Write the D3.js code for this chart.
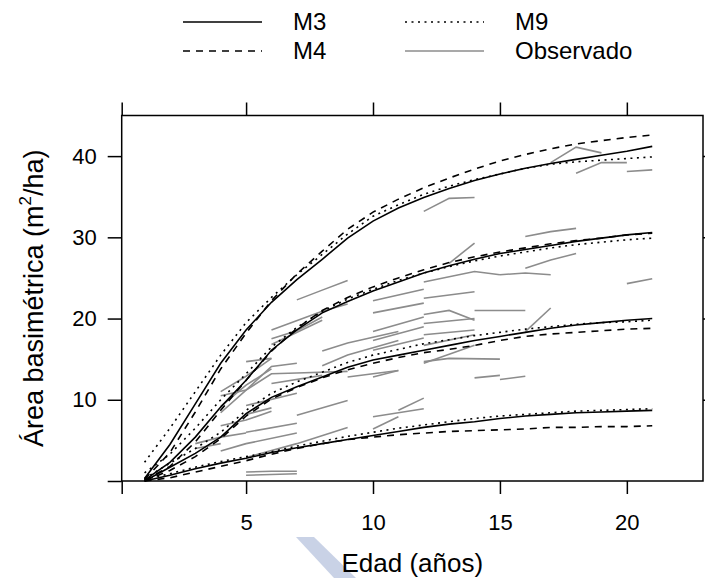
<!DOCTYPE html>
<html>
<head>
<meta charset="utf-8">
<script src="https://cdn.jsdelivr.net/npm/d3@7"></script>
<style>
  body { margin: 0; background: #fff; }
  text { font-family: "Liberation Sans", Arial, sans-serif; fill: #000; }
</style>
</head>
<body>
<div id="chart"></div>
<script>
// ages (years) at which the model curves are evaluated
const ages = [1, 2, 3, 4, 5, 6, 7, 8, 9, 10, 11, 12, 13, 14, 15, 16, 17, 18, 19, 20, 21];

// basal area (m2/ha) predicted by each model, four site curves each
const m3Curves = [
  [0.3, 4.5, 9.5, 14.5, 18.6, 22.0, 24.8, 27.3, 29.9, 32.0, 33.6, 34.9, 36.0, 37.0, 37.8, 38.5, 39.1, 39.6, 40.1, 40.6, 41.2],
  [0.1, 2.3, 5.4, 9.1, 12.4, 16.1, 18.6, 20.7, 22.1, 23.4, 24.5, 25.6, 26.5, 27.3, 28.0, 28.5, 29.0, 29.5, 29.9, 30.3, 30.6],
  [0.0, 1.7, 3.4, 5.4, 8.3, 10.3, 11.6, 12.8, 14.0, 14.9, 15.5, 16.1, 16.7, 17.3, 17.8, 18.3, 18.8, 19.2, 19.5, 19.8, 20.0],
  [0.0, 0.7, 1.5, 2.2, 2.8, 3.5, 4.1, 4.6, 5.1, 5.6, 6.1, 6.6, 7.0, 7.3, 7.7, 8.0, 8.2, 8.4, 8.5, 8.6, 8.7]
];
const m4Curves = [
  [0.2, 3.5, 8.5, 13.8, 18.2, 22.2, 25.5, 28.3, 31.0, 33.1, 34.7, 36.1, 37.3, 38.4, 39.4, 40.2, 40.9, 41.5, 41.9, 42.3, 42.6],
  [0.1, 1.8, 4.8, 8.7, 12.4, 16.0, 18.8, 21.0, 22.6, 23.9, 25.0, 26.0, 26.9, 27.6, 28.2, 28.7, 29.2, 29.6, 29.9, 30.3, 30.5],
  [0.0, 1.3, 3.0, 5.2, 8.0, 10.1, 11.5, 12.7, 13.7, 14.5, 15.2, 15.8, 16.2, 16.7, 17.3, 17.8, 18.1, 18.3, 18.5, 18.7, 18.8],
  [0.0, 0.4, 1.1, 1.8, 2.5, 3.3, 4.0, 4.6, 5.1, 5.4, 5.7, 5.9, 6.1, 6.2, 6.3, 6.4, 6.6, 6.6, 6.7, 6.7, 6.8]
];
const m9Curves = [
  [2.3, 6.5, 11.0, 15.5, 19.5, 22.6, 25.4, 27.9, 30.4, 32.6, 34.0, 35.3, 36.3, 37.1, 37.8, 38.5, 39.0, 39.3, 39.5, 39.7, 39.9],
  [1.0, 3.3, 6.5, 10.0, 13.2, 16.5, 18.9, 20.9, 22.4, 23.6, 24.7, 25.6, 26.4, 27.1, 27.7, 28.2, 28.7, 29.1, 29.4, 29.7, 29.9],
  [0.3, 2.2, 4.0, 6.0, 8.7, 10.8, 12.2, 13.4, 14.6, 15.5, 16.2, 16.9, 17.4, 17.9, 18.3, 18.7, 19.0, 19.3, 19.5, 19.6, 19.8],
  [0.2, 0.9, 1.7, 2.4, 3.0, 3.6, 4.3, 4.9, 5.5, 6.0, 6.5, 6.9, 7.3, 7.7, 8.0, 8.2, 8.4, 8.6, 8.7, 8.8, 8.9]
];

// observed plots: [age, basal area] per measurement
const observedPlots = [
  [[5, 0.7], [7, 0.9]],
  [[5, 1.1], [6, 1.2], [7, 1.2]],
  [[5, 2.9], [7, 4.6], [9, 6.6]],
  [[5, 4.6], [7, 5.9]],
  [[5, 6.0], [7, 7.1]],
  [[3, 4.6], [4, 5.4], [5, 5.9]],
  [[3, 4.0], [4, 4.6]],
  [[4, 3.7], [5, 4.6]],
  [[4, 6.8], [5, 7.5], [6, 8.6]],
  [[4, 8.4], [5, 11.2], [6, 13.2], [7, 13.3], [9, 13.5]],
  [[4, 10.5], [5, 11.2], [6, 14.1], [7, 14.5]],
  [[4, 11.0], [5, 12.9], [6, 15.1]],
  [[4, 9.2], [5, 11.8], [6, 13.8]],
  [[5, 14.7], [6, 15.1]],
  [[5, 9.3], [7, 10.8]],
  [[5, 8.2], [6, 9.0]],
  [[7, 8.1], [9, 9.9]],
  [[10, 6.4], [11, 7.9]],
  [[10, 7.9], [12, 8.9]],
  [[11, 8.7], [12, 10.2]],
  [[6, 16.8], [8, 19.8]],
  [[6, 17.5], [7, 18.5], [8, 20.2]],
  [[6, 18.6], [8, 20.9], [9, 21.8]],
  [[7, 22.3], [8, 23.5], [9, 24.7]],
  [[6, 12.0], [8, 13.0]],
  [[8, 14.2], [9, 15.5], [11, 17.3]],
  [[8, 16.0], [9, 17.0], [11, 18.4]],
  [[9, 12.8], [11, 13.6]],
  [[10, 20.7], [12, 21.9]],
  [[10, 18.4], [12, 20.2]],
  [[10, 17.3], [12, 19.0]],
  [[10, 16.1], [12, 17.6]],
  [[10, 22.2], [12, 23.6]],
  [[12, 22.5], [14, 23.3]],
  [[12, 19.4], [14, 20.0]],
  [[12, 20.5], [13, 21.0], [14, 19.8]],
  [[14, 21.0], [16, 21.0]],
  [[16, 18.4], [17, 21.3]],
  [[12, 18.0], [14, 18.6]],
  [[12, 16.7], [14, 18.0]],
  [[12, 14.7], [13, 15.1], [15, 15.0]],
  [[12, 14.5], [14, 16.7]],
  [[14, 12.7], [15, 13.0]],
  [[15, 12.5], [16, 12.9]],
  [[10, 12.8], [11, 13.6]],
  [[12, 24.5], [14, 25.8], [15, 25.4]],
  [[15, 25.4], [16, 25.6], [17, 25.4]],
  [[13, 26.8], [14, 29.3]],
  [[16, 26.2], [17, 27.2], [18, 28.0]],
  [[16, 30.1], [17, 30.7], [18, 31.1]],
  [[20, 24.3], [21, 24.9]],
  [[12, 33.2], [13, 34.8], [14, 34.9]],
  [[17, 39.2], [18, 41.1], [19, 40.4]],
  [[18, 37.9], [19, 39.2], [20, 39.2]],
  [[20, 38.1], [21, 38.3]]
];

const xTicks = [5, 10, 15, 20];
const yTicks = [10, 20, 30, 40];
const legendLabels = ["M3", "M4", "M9", "Observado"];

const width = 705, height = 578;
const margin = {top: 115.5, right: 2, bottom: 97, left: 121.7};

const svg = d3.select("#chart").append("svg")
  .attr("width", width)
  .attr("height", height);

// faint watermark shape under the x title
svg.append("path")
  .attr("d", "M296,537 L314,537 L356,578 L334,578 Z")
  .attr("fill", "#c9d2e6");

const x = d3.scaleLinear().domain([0.1, 23]).range([margin.left, width - margin.right]);
const y = d3.scaleLinear().domain([0, 45]).range([height - margin.bottom, margin.top]);

const styles = {
  M3: {stroke: "#000", dash: null},
  M4: {stroke: "#000", dash: "7,6"},
  M9: {stroke: "#000", dash: "2,4.5"},
  Observado: {stroke: "#8c8c8c", dash: null}
};

const line = d3.line().x(d => x(d[0])).y(d => y(d[1]));

const plot = svg.append("g").attr("class", "plot");

plot.selectAll("path.obs")
  .data(observedPlots)
  .enter().append("path")
  .attr("class", "obs")
  .attr("fill", "none")
  .attr("stroke", styles.Observado.stroke)
  .attr("stroke-width", 1.6)
  .attr("d", line);

[["M3", m3Curves], ["M4", m4Curves], ["M9", m9Curves]].forEach(([name, curves]) => {
  plot.selectAll(`path.${name}`)
    .data(curves)
    .enter().append("path")
    .attr("class", name)
    .attr("fill", "none")
    .attr("stroke", styles[name].stroke)
    .attr("stroke-width", 1.6)
    .attr("stroke-dasharray", styles[name].dash)
    .attr("d", vals => line(vals.map((v, i) => [ages[i], v])));
});

// axes: ticks outward, box drawn separately
const tickLen = 13;
svg.append("g")
  .attr("transform", `translate(0,${y(0)})`)
  .call(d3.axisBottom(x).tickValues([0.1].concat(xTicks)).tickSize(tickLen).tickSizeOuter(0).tickPadding(20)
    .tickFormat(d => d < 1 ? "" : d));
svg.append("g")
  .attr("transform", `translate(0,${y(45)})`)
  .call(d3.axisTop(x).tickValues([0.1].concat(xTicks)).tickSize(tickLen).tickSizeOuter(0).tickFormat(""));
svg.append("g")
  .attr("transform", `translate(${x(0.1)},0)`)
  .call(d3.axisLeft(y).tickValues([0].concat(yTicks)).tickSize(tickLen + 1).tickSizeOuter(0).tickPadding(11)
    .tickFormat(d => d === 0 ? "" : d));
svg.append("g")
  .attr("transform", `translate(${x(23)},0)`)
  .call(d3.axisRight(y).tickValues(yTicks).tickSize(tickLen).tickSizeOuter(0).tickFormat(""));

svg.selectAll(".domain").remove();
svg.selectAll(".tick line").attr("stroke", "#000").attr("stroke-width", 1.5);
svg.selectAll(".tick text")
  .style("font-family", "'Liberation Sans', Arial, sans-serif")
  .style("font-size", "22px")
  .attr("fill", "#000");

svg.append("rect")
  .attr("x", x(0.1))
  .attr("y", y(45))
  .attr("width", x(23) - x(0.1))
  .attr("height", y(0) - y(45))
  .attr("fill", "none")
  .attr("stroke", "#000")
  .attr("stroke-width", 1.5);

// axis titles
svg.append("text")
  .attr("x", (x(0.1) + x(23)) / 2)
  .attr("y", 572)
  .attr("text-anchor", "middle")
  .style("font-size", "26px")
  .text("Edad (años)");

const yTitle = svg.append("text")
  .attr("transform", `translate(43,${(y(0) + y(45)) / 2}) rotate(-90)`)
  .attr("text-anchor", "middle")
  .style("font-size", "27px");
yTitle.append("tspan").text("Área basimétrica (m");
yTitle.append("tspan").attr("dy", -12).style("font-size", "17px").text("2");
yTitle.append("tspan").attr("dy", 12).text("/ha)");

// legend, two columns
const legend = svg.append("g").attr("class", "legend");
const legendPos = [
  {lx: 183, tx: 293, y: 22},
  {lx: 183, tx: 293, y: 51},
  {lx: 405, tx: 515, y: 22},
  {lx: 405, tx: 515, y: 51}
];
legendLabels.forEach((name, i) => {
  const p = legendPos[i];
  legend.append("line")
    .attr("x1", p.lx).attr("x2", p.lx + 79)
    .attr("y1", p.y).attr("y2", p.y)
    .attr("stroke", styles[name].stroke)
    .attr("stroke-width", 1.6)
    .attr("stroke-dasharray", styles[name].dash);
  legend.append("text")
    .attr("x", p.tx)
    .attr("y", p.y)
    .attr("dy", "0.35em")
    .style("font-size", "24px")
    .text(name);
});
</script>
</body>
</html>
